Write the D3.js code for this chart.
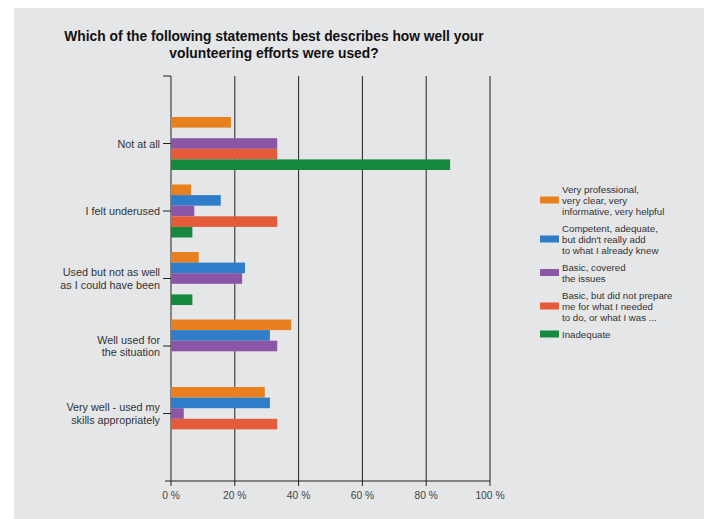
<!DOCTYPE html>
<html>
<head>
<meta charset="utf-8">
<script src="https://cdn.jsdelivr.net/npm/d3@7"></script>
<style>
  body { margin: 0; background: #fff; }
  text { font-family: "Liberation Sans", Arial, sans-serif; }
</style>
</head>
<body>
<div id="container"></div>
<script>
var width = 704,
    height = 519,
    margin = { left: 171, top: 76, right: 214, bottom: 38 },
    gWidth = width - margin.left - margin.right,
    gHeight = height - margin.top - margin.bottom;

var categories = ['Not at all', 'I felt underused', 'Used but not as well as I could have been',
    'Well used for the situation', 'Very well - used my skills appropriately'];
var categoryLines = [['Not at all'], ['I felt underused'], ['Used but not as well', 'as I could have been'],
    ['Well used for', 'the situation'], ['Very well - used my', 'skills appropriately']];
var series = ['Very professional', 'Competent', 'Basic covered', 'Basic not prepared', 'Inadequate'];
var legendLines = [
    ['Very professional,', 'very clear, very', 'informative, very helpful'],
    ['Competent, adequate,', "but didn't really add", 'to what I already knew'],
    ['Basic, covered', 'the issues'],
    ['Basic, but did not prepare', 'me for what I needed', 'to do, or what I was ...'],
    ['Inadequate']
];
var colors = ['#e8801f', '#2f7dc8', '#8b56a6', '#e45b3b', '#17893f'];
// values in %, one array per series (order of categories)
var veryProfessional = [18.8, 6.3, 8.7, 37.7, 29.4];
var competent = [0, 15.6, 23.2, 31.0, 31.0];
var basicCovered = [33.3, 7.3, 22.3, 33.3, 4.0];
var basicNotPrepared = [33.3, 33.3, 0, 0, 33.3];
var inadequate = [87.5, 6.7, 6.7, 0, 0];
var values = [veryProfessional, competent, basicCovered, basicNotPrepared, inadequate];
var xTicks = [0, 20, 40, 60, 80, 100];

var svg = d3.select('#container')
    .append('svg')
    .attr('width', width)
    .attr('height', height);

// gray page background
svg.append('rect')
    .attr('x', 14).attr('y', 8)
    .attr('width', width - 14).attr('height', height - 8)
    .attr('fill', '#e5e6e8');

svg.append('text')
    .attr('x', 274)
    .attr('text-anchor', 'middle')
    .attr('font-size', '13.8px')
    .attr('font-weight', 'bold')
    .attr('fill', '#111')
    .selectAll('tspan')
    .data(['Which of the following statements best describes how well your', 'volunteering efforts were used?'])
    .enter().append('tspan')
    .attr('x', 274)
    .attr('y', function(d, i) { return 41 + i * 16.5; })
    .text(function(d) { return d; });

var g = svg.append('g')
    .attr('transform', 'translate(' + margin.left + ',' + margin.top + ')');

var step = gHeight / (categories.length + 1);
var scaleX = d3.scaleLinear()
    .domain([0, 100])
    .range([0, gWidth]);
var scaleY = d3.scaleBand()
    .domain(categories)
    .range([step / 2, gHeight - step / 2])
    .padding(0);
var inner = d3.scaleBand()
    .domain(series)
    .range([-26.5, 26.5]);

// vertical grid lines
g.selectAll('.grid')
    .data(xTicks)
    .enter().append('line')
    .attr('x1', function(d) { return scaleX(d); })
    .attr('x2', function(d) { return scaleX(d); })
    .attr('y1', 0)
    .attr('y2', gHeight + 5)
    .attr('stroke', '#222')
    .attr('stroke-width', 1);

// bars
series.forEach(function(s, si) {
    g.selectAll('.bar' + si)
        .data(values[si])
        .enter().append('rect')
        .attr('x', 0)
        .attr('y', function(d, i) { return scaleY(categories[i]) + step / 2 + inner(s); })
        .attr('width', function(d) { return scaleX(d); })
        .attr('height', inner.bandwidth())
        .attr('fill', colors[si]);
});

// x axis
g.append('line')
    .attr('x1', -6).attr('x2', scaleX(100))
    .attr('y1', gHeight).attr('y2', gHeight)
    .attr('stroke', '#222');
g.selectAll('.xlabel')
    .data(xTicks)
    .enter().append('text')
    .attr('x', function(d) { return scaleX(d); })
    .attr('y', gHeight + 18)
    .attr('text-anchor', 'middle')
    .attr('font-size', '10.3px')
    .attr('fill', '#444')
    .text(function(d) { return d + ' %'; });

// y axis ticks and labels
var yTickPos = [0].concat(categories.map(function(c) { return scaleY(c) + step / 2; }));
g.selectAll('.ytick')
    .data(yTickPos)
    .enter().append('line')
    .attr('x1', -8).attr('x2', 0)
    .attr('y1', function(d) { return d; })
    .attr('y2', function(d) { return d; })
    .attr('stroke', '#222');
var yLabels = g.selectAll('.ylabel')
    .data(categoryLines)
    .enter().append('text')
    .attr('text-anchor', 'end')
    .attr('font-size', '10.8px')
    .attr('fill', '#333');
yLabels.each(function(lines, i) {
    var cy = scaleY(categories[i]) + step / 2;
    d3.select(this).selectAll('tspan')
        .data(lines)
        .enter().append('tspan')
        .attr('x', -11)
        .attr('y', function(d, j) { return cy + 4 + (j - (lines.length - 1) / 2) * 12.3; })
        .text(function(d) { return d; });
});

// legend
var lineH = 11, gap = 6;
var cy = 200 - lineH * 1.5;
var legend = svg.append('g');
legendLines.forEach(function(lines, i) {
    var center = cy + lines.length * lineH / 2;
    legend.append('rect')
        .attr('x', 540).attr('y', center - 3.5)
        .attr('width', 19).attr('height', 7)
        .attr('fill', colors[i]);
    legend.append('text')
        .attr('font-size', '9.7px')
        .attr('fill', '#333')
        .selectAll('tspan')
        .data(lines)
        .enter().append('tspan')
        .attr('x', 562)
        .attr('y', function(d, j) { return center + 3.5 + (j - (lines.length - 1) / 2) * lineH; })
        .text(function(d) { return d; });
    cy += lines.length * lineH + gap;
});
</script>
</body>
</html>
